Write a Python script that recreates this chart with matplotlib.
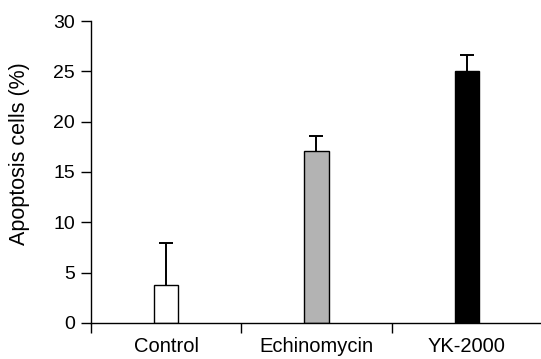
import matplotlib.pyplot as plt
import numpy as np

plt.rcParams['font.family'] = ['Liberation Sans', 'DejaVu Sans']

groups = ['Control', 'Echinomycin', 'YK-2000']
values = [3.8, 17.1, 25.0]
errors = [4.1, 1.5, 1.6]
colours = ['white', '#b3b3b3', 'black']

fig = plt.figure(figsize=(5.41, 3.59), dpi=100)
ax = fig.add_axes([0.1682, 0.1003, 0.8336, 0.8412])

x = np.arange(len(groups))
eb = ax.errorbar(x, values, yerr=[np.zeros(len(errors)), errors], fmt='none',
                 ecolor='black', elinewidth=1.4, capsize=4.7, capthick=1.4, zorder=2)
# only the upper caps are wanted
eb[1][0].set_visible(False)
ax.bar(x, values, width=0.16, color=colours, edgecolor='black', linewidth=1.0,
       zorder=3)

ax.set_xlim(-0.5, 2.5)
ax.set_ylim(0, 30)
ax.set_yticks(range(0, 31, 5))
ax.set_xticks([-0.5, 0.5, 1.5, 2.5])
ax.set_xticklabels([])
ax.set_xticks(x, minor=True)
ax.set_xticklabels(groups, minor=True)
ax.tick_params(axis='x', which='minor', length=0, pad=10, labelsize=14.5)
ax.tick_params(axis='x', which='major', length=7, width=1)
ax.tick_params(axis='y', length=7, width=1, labelsize=14, pad=4.5)

ax.spines['top'].set_visible(False)
ax.spines['right'].set_visible(False)
ax.spines['left'].set_linewidth(1)
ax.spines['bottom'].set_linewidth(1)
ax.spines['bottom'].set_zorder(4)

ax.set_ylabel('Apoptosis cells (%)', fontsize=15.5)
ax.yaxis.set_label_coords(-0.135, 0.56)

fig.savefig('out.png', dpi=100)
